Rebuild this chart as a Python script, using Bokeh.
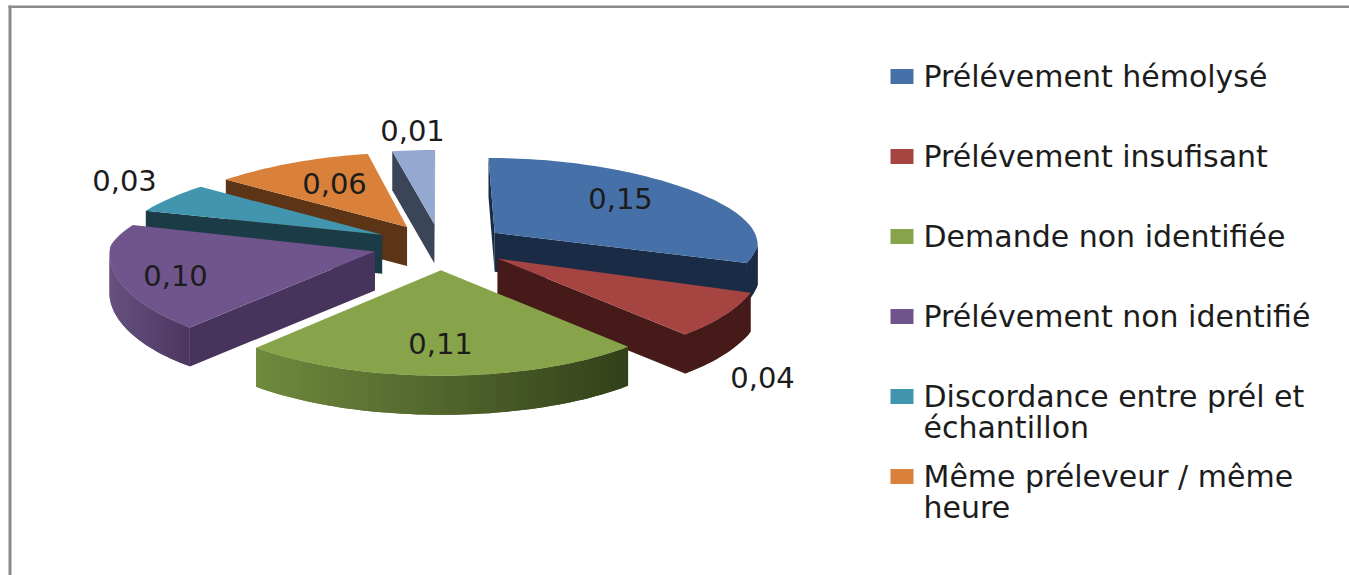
import math
from bokeh.plotting import figure
from bokeh.models import Range1d, ColumnDataSource
from bokeh.core.properties import value
from bokeh.embed import file_html
from bokeh.resources import INLINE

# ---- data ----
categories = ["Prélévement hémolysé", "Prélévement insufisant", "Demande non identifiée",
              "Prélévement non identifié", "Discordance entre prél et\néchantillon",
              "Même préleveur / même\nheure", "Autre"]
# shares; the printed labels are rounded
values = [0.152, 0.0375, 0.12, 0.0905, 0.03, 0.055, 0.015]
labels = ["0,15", "0,04", "0,11", "0,10", "0,03", "0,06", "0,01"]

# ---- styles ----
top_colors = ["#4670A8", "#A64442", "#87A44A", "#70548C", "#4195AE", "#D9813A", "#93A9CF"]
wall_flat = ["#1A2C45", "#451A18", "#3A4A1C", "#47345C", "#1B3B47", "#5B3515", "#3B4558"]
wall_left = ["#1A2C45", "#451A18", "#6F8A3E", "#67507F", "#1B3B47", "#5B3515", "#3B4558"]
wall_right = ["#1A2C45", "#451A18", "#33401A", "#4B3760", "#1B3B47", "#5B3515", "#3B4558"]
paint_order = [6, 5, 4, 0, 3, 1, 2]
legend_rows = 6

# ---- layout (page pixels) ----
CX, CY = 440.0, 245.0
AX = 265.0
EXPLODE = 0.255
WALL = 39.0
TXT = "#1C1C1C"
FONT = "DejaVu Sans"
LABEL_SIZE = "29px"
LEGEND_SIZE = "30px"
LABEL_ANCHORS = [(620, 198), (762, 377), (440, 343), (175, 275), (124, 180), (334, 183), (412, 130)]
LEG_X0, LEG_X1, LEG_TX = 890, 913, 923
LEG_Y = [76, 156, 236, 316, 396, 476]
LINE_H = 31


def project(X, Y):
    w = 1 + 0.13 * max(Y, 0) + 0.025 * min(Y, 0)
    return CX + AX * X / w, CY - Y * (90 - 14 * math.tanh(2 * Y))


def hex2rgb(c):
    return [int(c[i:i + 2], 16) for i in (1, 3, 5)]


def mix(a, b, t):
    ra, rb = hex2rgb(a), hex2rgb(b)
    return "#%02X%02X%02X" % tuple(round(x + (y - x) * t) for x, y in zip(ra, rb))


total = sum(values)
xs, ys, cols = [], [], []
starts = []
acc = 0.0
for v in values:
    starts.append(acc)
    acc += v / total * 2 * math.pi

for i in paint_order:
    a0 = starts[i]
    a1 = a0 + values[i] / total * 2 * math.pi
    mid = (a0 + a1) / 2
    ex, ey = EXPLODE * math.sin(mid), EXPLODE * math.cos(mid)
    n = max(6, int((a1 - a0) / math.radians(1.5)))
    pts = [project(ex, ey)]
    for k in range(n + 1):
        a = a0 + (a1 - a0) * k / n
        pts.append(project(ex + math.sin(a), ey + math.cos(a)))
    minx = min(pt[0] for pt in pts[1:])
    maxx = max(pt[0] for pt in pts[1:])
    m = len(pts)
    for k in range(m):
        a_, b_ = pts[k], pts[(k + 1) % m]
        if b_[0] < a_[0]:  # this edge faces the viewer
            if k == 0 or k == m - 1:
                xs.append([a_[0], b_[0], b_[0], a_[0]])
                ys.append([a_[1], b_[1], b_[1] + WALL, a_[1] + WALL])
                cols.append(wall_flat[i])
            else:
                t = ((a_[0] + b_[0]) / 2 - minx) / max(maxx - minx, 1)
                # extend each strip past its left end: the next strip paints over it
                c_ = pts[k + 2] if k + 2 < m and pts[k + 2][0] < b_[0] else b_
                xs.append([a_[0], b_[0], c_[0], c_[0], b_[0], a_[0]])
                ys.append([a_[1], b_[1], c_[1], c_[1] + WALL, b_[1] + WALL, a_[1] + WALL])
                cols.append(mix(wall_left[i], wall_right[i], t))
    xs.append([pt[0] for pt in pts])
    ys.append([pt[1] for pt in pts])
    cols.append(top_colors[i])

p = figure(width=1349, height=575, output_backend="svg", toolbar_location=None,
           x_range=Range1d(0, 1349), y_range=Range1d(575, 0),
           x_axis_type=None, y_axis_type=None, min_border=0,
           outline_line_color=None, background_fill_color="white", border_fill_color="white")
p.grid.visible = False

# frame
p.quad(left=[8, 8], right=[11, 1349], top=[5, 5], bottom=[575, 7.5], color="#8A8A8A", line_color=None)

src = ColumnDataSource(dict(xs=xs, ys=ys, c=cols))
p.patches("xs", "ys", source=src, fill_color="c", line_color=None)

# data labels
p.text(x=[a[0] for a in LABEL_ANCHORS], y=[a[1] for a in LABEL_ANCHORS], text=labels,
       text_align="center", text_baseline="middle", text_color=TXT,
       text_font=value(FONT), text_font_size=LABEL_SIZE)

# legend
p.quad(left=[LEG_X0] * legend_rows, right=[LEG_X1] * legend_rows,
       top=[y - 7.5 for y in LEG_Y], bottom=[y + 7.5 for y in LEG_Y],
       fill_color=top_colors[:legend_rows], line_color=None)
tx, ty, tt = [], [], []
for y, cat in zip(LEG_Y, categories[:legend_rows]):
    for j, line in enumerate(cat.split("\n")):
        tx.append(LEG_TX)
        ty.append(y + j * LINE_H)
        tt.append(line)
p.text(x=tx, y=ty, text=tt, text_align="left", text_baseline="middle", text_color=TXT,
       text_font=value(FONT), text_font_size=LEGEND_SIZE)

open("out.html", "w").write(file_html(p, INLINE))
